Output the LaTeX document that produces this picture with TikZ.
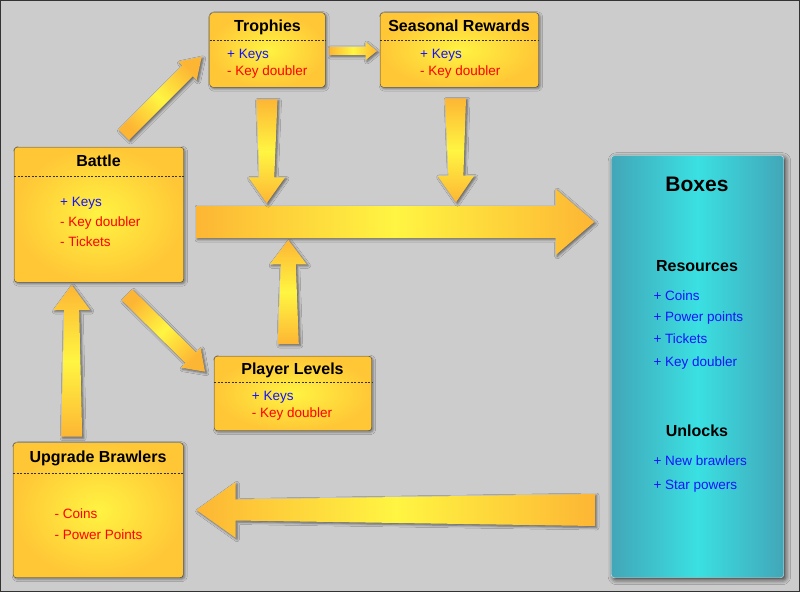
\documentclass[tikz,border=0pt]{standalone}
\usepackage{fontspec}
\setmainfont{Liberation Sans}
\usepackage{tikz}
\usetikzlibrary{calc,shadows.blur}

\definecolor{bgcol}{RGB}{204,204,204}
\definecolor{panelyel}{RGB}{255,243,66}
\definecolor{panelor}{RGB}{255,199,54}
\definecolor{arrowyel}{RGB}{255,245,66}
\definecolor{arrowor}{RGB}{253,182,52}
\definecolor{tealdk}{RGB}{66,166,184}
\definecolor{teallt}{RGB}{58,224,226}
\definecolor{plusblue}{RGB}{20,20,255}
\definecolor{minusred}{RGB}{255,0,0}

\pgfdeclarehorizontalshading{arrowshade}{100bp}{color(0bp)=(arrowor); color(25bp)=(arrowor); color(50bp)=(arrowyel); color(75bp)=(arrowor); color(100bp)=(arrowor)}

% fat arrow: shading angle, from, to, tail width, neck width, head width, head length
\newcommand{\fatarrow}[7]{%
  \coordinate (fa-n) at ($(#3)!#7pt!(#2)$);
  \shade[arrowbody, shading angle=#1]
    ($(#2)!{#4*0.5pt}!90:(#3)$) -- ($(fa-n)!{#5*0.5pt}!90:(#3)$) -- ($(fa-n)!{#6*0.5pt}!90:(#3)$)
    -- (#3) -- ($(fa-n)!{#6*0.5pt}!-90:(#3)$) -- ($(fa-n)!{#5*0.5pt}!-90:(#3)$)
    -- ($(#2)!{#4*0.5pt}!-90:(#3)$) -- cycle;
}

\tikzset{
  panel/.style={draw=black!75, rounded corners=3pt, anchor=north west, inner sep=0pt,
    inner color=panelyel, outer color=panelor,
    blur shadow={shadow xshift=1.5pt, shadow yshift=-1.5pt, shadow blur radius=2.5pt, shadow opacity=45}},
  boxpanel/.style={draw=white!85!teal, rounded corners=3pt, anchor=north west, inner sep=0pt,
    left color=tealdk, right color=tealdk, middle color=teallt,
    blur shadow={shadow xshift=2pt, shadow yshift=-2pt, shadow blur radius=5pt, shadow opacity=75}},
  arrowbody/.style={shading=arrowshade,
    blur shadow={shadow xshift=1.5pt, shadow yshift=-1.5pt, shadow blur radius=2.5pt, shadow opacity=55}},
  title/.style={anchor=base, inner sep=0pt, font=\fontsize{16}{19}\selectfont\bfseries},
  bigtitle/.style={anchor=base, inner sep=0pt, font=\fontsize{21}{25}\selectfont\bfseries},
  plus/.style={anchor=base west, inner sep=0pt, text=plusblue, font=\fontsize{13.5}{16}\selectfont},
  minus/.style={anchor=base west, inner sep=0pt, text=minusred, font=\fontsize{13.5}{16}\selectfont},
  sep/.style={draw=black!80, thin, dash pattern=on 2pt off 1.5pt}
}

\begin{document}
\begin{tikzpicture}[x=1pt, y=-1pt]

  \useasboundingbox (0,0) rectangle (800,592);
  \fill[bgcol, draw=black!80, line width=1pt] (0.5,0.5) rectangle (799.5,591.5);

  % arrow end points
  \coordinate (bt-a) at (123.7,134.7);  \coordinate (bt-b) at (201.7,56.7);
  \coordinate (ts-a) at (329,51);       \coordinate (ts-b) at (377,51);
  \coordinate (td-a) at (267,99.3);     \coordinate (td-b) at (266.7,203.3);
  \coordinate (sd-a) at (455.5,98.3);   \coordinate (sd-b) at (456,202.3);
  \coordinate (mn-a) at (196,222);      \coordinate (mn-b) at (594.3,222);
  \coordinate (lu-a) at (288.3,344);    \coordinate (lu-b) at (288.3,240);
  \coordinate (bl-a) at (127,294.7);    \coordinate (bl-b) at (205,371.7);
  \coordinate (uu-a) at (71.7,436.7);   \coordinate (uu-b) at (71.7,285);
  \coordinate (bu-a) at (595,510);      \coordinate (bu-b) at (196.5,510);

  \fatarrow{0}{mn-a}{mn-b}{32}{32}{66}{38.6}
  \fatarrow{45}{bt-a}{bt-b}{15}{15}{26}{20}
  \fatarrow{0}{ts-a}{ts-b}{8.3}{8.3}{18.3}{11.5}
  \fatarrow{90}{td-a}{td-b}{21}{15}{36.7}{26}
  \fatarrow{90}{sd-a}{sd-b}{21}{15}{36.7}{26.6}
  \fatarrow{90}{lu-a}{lu-b}{21}{15}{36.6}{24.3}
  \fatarrow{-45}{bl-a}{bl-b}{15}{15}{28}{20}
  \fatarrow{90}{uu-a}{uu-b}{21}{15}{36.7}{25}
  \fatarrow{0}{bu-a}{bu-b}{32}{21}{55.4}{39}

  % Trophies
  \node[panel, minimum width=115.5pt, minimum height=74.5pt] (trophies) at (209.5,12.5) {};
  \node[title] (trophies-title) at (267.5,31.5) {Trophies};
  \draw[sep] (trophies.west |- 0,40.3) -- (trophies.east |- 0,40.3);
  \node[plus] (trophies-keys) at (227,58.3) {+ Keys};
  \node[minus] (trophies-kd) at (227,75) {- Key doubler};

  % Seasonal Rewards
  \node[panel, minimum width=158.5pt, minimum height=74.5pt] (seasonal) at (380,12.5) {};
  \node[title] (seasonal-title) at (459,31.5) {Seasonal Rewards};
  \draw[sep] (seasonal.west |- 0,40.3) -- (seasonal.east |- 0,40.3);
  \node[plus] (seasonal-keys) at (420,58.3) {+ Keys};
  \node[minus] (seasonal-kd) at (420,75) {- Key doubler};

  % Battle
  \node[panel, minimum width=169.5pt, minimum height=135pt] (battle) at (14,147) {};
  \node[title] (battle-title) at (98.5,166.5) {Battle};
  \draw[sep] (battle.west |- 0,176) -- (battle.east |- 0,176);
  \node[plus] (battle-keys) at (60,206.7) {+ Keys};
  \node[minus] (battle-kd) at (60,226.7) {- Key doubler};
  \node[minus] (battle-tickets) at (60,246) {- Tickets};

  % Player Levels
  \node[panel, minimum width=157.5pt, minimum height=74.5pt] (levels) at (214,356) {};
  \node[title] (levels-title) at (292.5,374) {Player Levels};
  \draw[sep] (levels.west |- 0,381.7) -- (levels.east |- 0,381.7);
  \node[plus] (levels-keys) at (251.7,400.7) {+ Keys};
  \node[minus] (levels-kd) at (251.7,417.3) {- Key doubler};

  % Upgrade Brawlers
  \node[panel, minimum width=170pt, minimum height=135pt] (upgrade) at (13,442.5) {};
  \node[title] (upgrade-title) at (98,462.3) {Upgrade Brawlers};
  \draw[sep] (upgrade.west |- 0,472.7) -- (upgrade.east |- 0,472.7);
  \node[minus] (upgrade-coins) at (54.5,518.3) {- Coins};
  \node[minus] (upgrade-pp) at (54.5,539) {- Power Points};

  % Boxes
  \node[boxpanel, minimum width=172.5pt, minimum height=422pt] (boxes) at (611,155.5) {};
  \node[bigtitle] (boxes-title) at (697,191.5) {Boxes};
  \node[title] (resources) at (697,271.5) {Resources};
  \node[plus] (res-coins) at (653.3,300) {+ Coins};
  \node[plus] (res-pp) at (653.3,321.7) {+ Power points};
  \node[plus] (res-tickets) at (653.3,343.3) {+ Tickets};
  \node[plus] (res-kd) at (653.3,366) {+ Key doubler};
  \node[title] (unlocks) at (697,436) {Unlocks};
  \node[plus] (unl-brawlers) at (653.3,465) {+ New brawlers};
  \node[plus] (unl-star) at (653.3,489.3) {+ Star powers};

\end{tikzpicture}
\end{document}
